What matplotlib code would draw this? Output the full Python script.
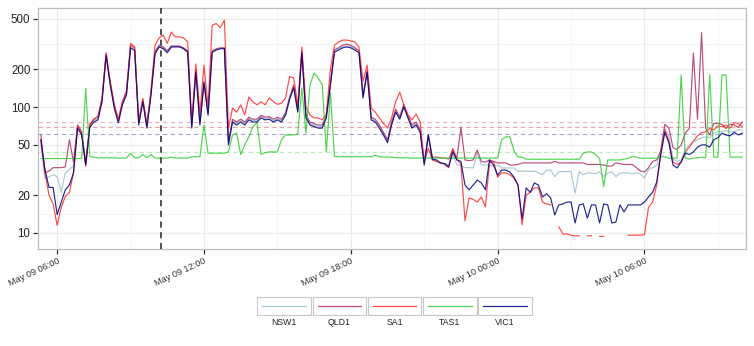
import numpy as np
import pandas as pd
import matplotlib
matplotlib.use("Agg")
import matplotlib.pyplot as plt
from matplotlib.patches import Rectangle
from matplotlib.lines import Line2D
from matplotlib.ticker import FixedLocator, NullFormatter, FuncFormatter
import matplotlib.transforms as mtransforms

plt.rcParams['font.family'] = ['Liberation Sans', 'DejaVu Sans']

nan = np.nan

# 10-minute spot prices, 05:20 on 9 May to 10:00 on 10 May
times = pd.date_range('2016-05-09 05:20', '2016-05-10 10:00', freq='10min')

regions = ['NSW1', 'QLD1', 'SA1', 'TAS1', 'VIC1']
region_colors = ['#9AC0CD', '#B03060', '#FF2A2A', '#32CD32', '#000080']

nsw1 = [
    50, 27, 28, 29, 28, 21, 30, 32, 34, 70,
    62, 35, 70, 78, 81, 112, 258, 152, 100, 77,
    106, 128, 300, 285, 74, 112, 70, 127, 270, 302,
    295, 275, 302, 302, 302, 292, 276, 70, 192, 74,
    157, 88, 275, 286, 292, 292, 52, 78, 74, 78,
    74, 81, 78, 78, 84, 81, 82, 78, 81, 78,
    88, 118, 146, 93, 275, 84, 74, 72, 70, 70,
    84, 152, 278, 290, 302, 306, 302, 290, 275, 120,
    192, 81, 78, 70, 62, 54, 74, 93, 82, 102,
    84, 70, 74, 65, 36, 58, 38, 37, 36, 35.5,
    34.6, 42, 35, 34, 33, 33, 32.8, 43, 34.6, 34.6,
    34.6, 34, 34.6, 32.8, 32.8, 32.8, 32.8, 30.7, 31, 31,
    30.7, 31, 30, 29, 31.6, 31.6, 28, 30.7, 30.7, 30.7,
    30.7, 20.7, 30.7, 29, 30, 30, 29.5, 30.5, 28, 30,
    30.7, 28, 30, 30, 30, 29.5, 30, 29.5, 27.3, 32,
    33, 34.5, 45, 68, 58, 38.6, 37, 38, 46, 50,
    53, 55, 57, 58, 57, 62, 63.5, 64, 65, 64,
    63.5, 66, 66,
]

qld1 = [
    60, 30, 31, 33, 33, 33, 33.5, 55, 36.6, 72,
    64, 36, 73, 80, 84, 118, 265, 158, 104, 80,
    110, 132, 310, 295, 76, 116, 72, 130, 275, 310,
    300, 280, 305, 305, 305, 295, 280, 72, 195, 76,
    160, 90, 280, 290, 295, 295, 53, 80, 76, 80,
    76, 83, 80, 80, 86, 83, 84, 80, 83, 80,
    90, 120, 150, 95, 280, 86, 76, 74, 72, 72,
    86, 155, 285, 295, 310, 315, 310, 295, 280, 124,
    195, 83, 80, 72, 63, 55, 76, 96, 84, 105,
    86, 72, 76, 66, 36, 60, 40, 40, 39.5, 39.3,
    38.6, 46, 39, 69, 38, 37.5, 38, 45.5, 37, 36.5,
    38, 37, 36, 36, 36, 34.6, 34.6, 35, 36, 36,
    36, 36, 36, 36, 36, 36, 37, 36, 36, 36,
    36, 36, 36, 36, 35, 35, 35, 35, 34.6, 34,
    34, 36, 35.5, 35, 35, 35, 33, 31, 30.5, 33,
    37, 38, 45, 73, 68, 47.5, 46, 50, 62, 67.5,
    268, 80, 390, 68, 60, 74, 74, 73, 67.5, 73,
    72, 69, 76,
]

sa1 = [
    55, 30, 20, 17, 11.5, 16, 19.5, 21, 30, 70,
    62, 34, 72, 80, 84, 115, 270, 160, 104, 78,
    110, 135, 320, 300, 76, 116, 72, 135, 310, 354,
    372, 320, 393, 360, 360, 354, 328, 76, 220, 90,
    215, 100, 446, 460, 425, 490, 68, 98, 91, 104,
    86.5, 120, 110, 104, 110, 104, 118, 110, 105, 107,
    118, 175, 170, 104, 300, 100, 86.5, 82, 82, 79,
    88, 200, 310, 328, 340, 340, 335, 328, 300, 160,
    215, 98, 91, 82, 74, 68, 82, 110, 131, 104,
    86.5, 79, 88, 76, 36.6, 47, 38, 37, 36, 35,
    33, 47, 38.6, 35, 12.5, 19, 18.5, 17.6, 19.3, 16.1,
    36, 37, 27.8, 30, 30, 29, 27.3, 24, 11.6, 20,
    21, 22.8, 22.8, 17.6, 17, 16.7, nan, 11.2, 9.8, 9.8,
    9.6, 9.5, 9.5, nan, 9.5, 9.5, nan, 9.4, 9.4, nan,
    nan, nan, nan, nan, 9.6, 9.6, 9.6, 9.6, 9.7, 16,
    17.6, 24, 44, 66, 53, 36.6, 35, 36.6, 44, 48,
    53.5, 59, 62.5, 63.5, 67.5, 66, 71, 69.6, 72, 68,
    75, 74, 69.6,
]

tas1 = [
    39, 39, 39, 39, 39, 39, 39, 39, 39, 39,
    39, 140, 40.5, 40, 39.5, 39.5, 39.5, 39.5, 39.5, 39.3,
    39.3, 39.3, 43, 39.5, 39.5, 42, 39.5, 42, 39.3, 39.3,
    39.3, 39.3, 40, 39.3, 39.3, 39.3, 39.3, 40.3, 40.3, 40.3,
    72, 43, 43, 43, 43, 43, 44, 60, 62, 42,
    50, 58, 70, 75, 42, 43.5, 44, 44, 44, 55,
    60, 60, 60, 61, 142, 62, 150, 186, 170, 150,
    44, 130, 40.5, 40.3, 40.3, 40.3, 40.3, 40.3, 40.3, 40.3,
    40.3, 40.3, 41.5, 40.3, 40, 40, 40, 39.5, 39.5, 39.5,
    39.5, 39.3, 39.3, 39.3, 39.3, 39.3, 39.3, 39.3, 39.3, 39.3,
    39.3, 39.3, 39.3, 39.3, 39.3, 39.3, 39.3, 39.3, 39.3, 39.3,
    39.3, 39.3, 39.5, 55, 58, 58, 45, 40, 40, 38.5,
    38.5, 38.5, 38.5, 38.5, 38.5, 38.5, 38.5, 38.5, 38.5, 38.5,
    38.5, 38.5, 38.5, 43, 44, 44, 42, 39, 23.3, 38,
    38, 38, 38, 38.6, 39, 40.5, 40, 39.2, 39.2, 39.2,
    39.2, 39.2, 40.3, 40.3, 39.2, 39.2, 39.2, 180, 39.2, 38.6,
    39.2, 39.5, 40, 39.5, 180, 40, 40, 180, 180, 40,
    40, 40, 40,
]

vic1 = [
    55, 32, 23, 23, 14, 17.6, 22, 24, 30, 68,
    60, 34.6, 69, 76, 79, 110, 256, 150, 98, 75,
    104, 125, 295, 280, 72, 110, 68, 124, 265, 300,
    290, 270, 300, 300, 300, 290, 272, 68, 190, 72,
    155, 86, 272, 283, 290, 290, 50, 76, 72, 76,
    72, 79, 76, 76, 82, 79, 80, 76, 79, 76,
    86, 115, 142, 91, 270, 82, 72, 70, 68, 68,
    82, 150, 272, 283, 295, 300, 295, 283, 270, 118,
    189, 79, 76, 68, 60, 52, 72, 91, 80, 100,
    82, 68, 72, 63, 34.6, 60, 38.6, 38, 36, 35.5,
    33.5, 44, 38, 37, 24, 22, 24, 26.3, 25, 22,
    38, 34.6, 28.8, 31.6, 31.6, 30.5, 27.8, 24, 13, 22.8,
    21, 25, 24, 19.3, 20.5, 19, 13.9, 16.7, 17, 17.6,
    17.6, 12, 16.7, 17, 13.1, 16.7, 16.7, 12, 17, 16.7,
    12, 12.2, 16.7, 14.7, 16.7, 16.7, 16.7, 16.7, 17.6, 19.3,
    21, 25.4, 41.6, 63, 52, 34.6, 32.8, 36.6, 43, 42,
    44, 48, 50, 50, 48, 55, 57, 62, 60, 59,
    63, 60, 62,
]

# reference (average) price per region, drawn as dashed lines
avg_price = [69, 76.3, 69, 43.7, 61.6]

event_time = pd.Timestamp('2016-05-09 10:15')

major_ticks = pd.date_range('2016-05-09 06:00', '2016-05-10 06:00', freq='6h')
minor_ticks = pd.date_range('2016-05-09 09:00', '2016-05-10 09:00', freq='6h')
y_major = [10, 20, 50, 100, 200, 500]
y_minor = [14.14, 31.62, 70.71, 141.4, 316.2]

series = [nsw1, qld1, sa1, tas1, vic1]

W, H = 754, 346
fig = plt.figure(figsize=(W / 100, H / 100), dpi=100)
px_l, px_r, px_t, px_b = 38, 746, 8, 249
ax = fig.add_axes([px_l / W, 1 - px_b / H, (px_r - px_l) / W, (px_b - px_t) / H])

ax.set_yscale('log')
ax.set_ylim(7.46, 611)
ax.set_xlim(pd.Timestamp('2016-05-09 05:13'), pd.Timestamp('2016-05-10 10:09'))

# grid
for yv in y_major:
    ax.axhline(yv, color='#ebebeb', lw=0.9, zorder=0)
for yv in y_minor:
    ax.axhline(yv, color='#f4f4f4', lw=0.6, zorder=0)
for xv in major_ticks:
    ax.axvline(xv, color='#ebebeb', lw=0.9, zorder=0)
for xv in minor_ticks:
    ax.axvline(xv, color='#f4f4f4', lw=0.6, zorder=0)

for vals, col in zip(series, region_colors):
    ax.plot(times, vals, color=col, lw=0.85, alpha=0.85, zorder=3,
            solid_joinstyle='round')

for v, col in zip(avg_price, region_colors):
    ax.axhline(v, color=col, lw=0.8, ls=(0, (4, 3)), alpha=0.35, zorder=2)

ax.axvline(event_time, color='#222222', lw=1.1, ls=(0, (4, 3)), zorder=4)

ax.yaxis.set_major_locator(FixedLocator(y_major))
ax.yaxis.set_minor_locator(FixedLocator([]))
ax.yaxis.set_major_formatter(FuncFormatter(lambda v, p: f'{v:g}'))
ax.yaxis.set_minor_formatter(NullFormatter())

ax.set_xticks(list(major_ticks))
ax.set_xticklabels([t.strftime('%b %d %H:%M') for t in major_ticks],
                   rotation=25, ha='right', rotation_mode='anchor',
                   fontsize=6.6, color='#333333')
offset = mtransforms.ScaledTranslation(-10 / 100, 5 / 100, fig.dpi_scale_trans)
for lab in ax.get_xticklabels():
    lab.set_transform(lab.get_transform() + offset)

ax.tick_params(axis='y', labelsize=8.3, labelcolor='#222222', length=3.5,
               width=0.9, color='#333333', pad=2)
ax.tick_params(axis='x', length=3.5, width=0.9, color='#333333', pad=2)

for s in ax.spines.values():
    s.set_color('#bdbdbd')
    s.set_linewidth(0.9)
ax.set_facecolor('white')

# legend drawn as a row of keys with labels underneath
lax = fig.add_axes([0, 0, 1, 1], facecolor='none')
lax.set_xlim(0, W)
lax.set_ylim(H, 0)
lax.axis('off')
key_w, key_gap = 53.5, 1.75
key_top, key_h = 296.7, 18.3
x0 = 257.3
for i, (name, col) in enumerate(zip(regions, region_colors)):
    kx = x0 + i * (key_w + key_gap)
    lax.add_patch(Rectangle((kx, key_top), key_w, key_h, facecolor='white',
                            edgecolor='#c8c8c8', lw=0.8))
    lax.add_line(Line2D([kx + 5, kx + key_w - 5], [key_top + key_h / 2] * 2,
                        color=col, lw=0.9, alpha=0.85))
    lax.text(kx + key_w / 2, 322.5, name, ha='center', va='center',
             fontsize=6.3, color='#222222')

fig.savefig('out.png', dpi=100)
